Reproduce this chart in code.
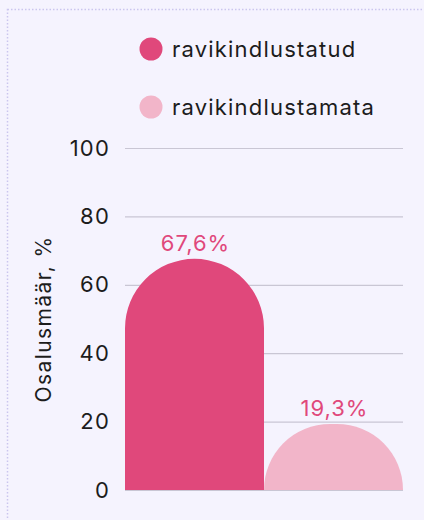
<!DOCTYPE html>
<html>
<head>
<meta charset="utf-8">
<script src="https://cdn.jsdelivr.net/npm/d3@7"></script>
<style>
  html, body { margin: 0; padding: 0; background: #f5f3fe; }
  svg { display: block; font-family: Inter, "Open Sans", sans-serif; }
</style>
</head>
<body>
<div id="chart"></div>
<script>
// ##################################
//  DATA
// ##################################
const categories = ["ravikindlustatud", "ravikindlustamata"]
const values = [67.6, 19.3]
const colors = ["#e0487b", "#f2b5c9"]
const yTicks = [0, 20, 40, 60, 80, 100]
const yTitle = "Osalusmäär, %"

// ##################################
//  CONSTANTS
// ##################################
const width = 424
const height = 520
const margin = { top: 148, right: 21, bottom: 30, left: 125 }
const plotW = width - margin.left - margin.right
const plotH = height - margin.top - margin.bottom
const fmt = (v) => d3.format(".1f")(v).replace(".", ",") + "%"

const svg = d3
  .select("#chart")
  .append("svg")
  .attr("width", width)
  .attr("height", height)

// dotted frame
svg
  .append("rect")
  .attr("x", 7.5)
  .attr("y", 9.5)
  .attr("width", width + 20)
  .attr("height", height + 20)
  .attr("fill", "none")
  .attr("stroke", "#cbc5ee")
  .attr("stroke-width", 1.5)
  .attr("stroke-dasharray", "1.5 2")

const x = d3
  .scaleBand()
  .domain(categories)
  .range([margin.left, margin.left + plotW])
  .padding(0)

const y = d3
  .scaleLinear()
  .domain([0, 100])
  .range([margin.top + plotH, margin.top])

// y axis + grid
svg
  .append("g")
  .attr("transform", `translate(${margin.left},0)`)
  .call(
    d3
      .axisLeft(y)
      .tickValues(yTicks)
      .tickSize(-plotW)
      .tickPadding(15)
  )
  .call((g) => g.select(".domain").remove())
  .call((g) => g.selectAll(".tick line").attr("stroke", "#c9c6d4").attr("stroke-width", 1.2))
  .call((g) =>
    g
      .selectAll(".tick text")
      .attr("fill", "#1c1c1c")
      .attr("font-size", 22)
      .attr("letter-spacing", 1.2)
      .attr("font-family", "Inter, sans-serif")
  )

// y title
svg
  .append("text")
  .attr("transform", `translate(51, ${margin.top + plotH / 2}) rotate(-90)`)
  .attr("text-anchor", "middle")
  .attr("font-size", 21)
  .attr("letter-spacing", 1.4)
  .attr("fill", "#1c1c1c")
  .text(yTitle)

// rounded-top bars
const barPath = (x0, w, yTop, yBase) => {
  const h = yBase - yTop
  const r = Math.min(w / 2, h)
  const p = d3.path()
  p.moveTo(x0, yBase)
  p.lineTo(x0, yTop + r)
  p.arcTo(x0, yTop, x0 + r, yTop, r)
  p.lineTo(x0 + w - r, yTop)
  p.arcTo(x0 + w, yTop, x0 + w, yTop + r, r)
  p.lineTo(x0 + w, yBase)
  p.closePath()
  return p.toString()
}

const bars = categories.map((c, i) => ({ c, v: values[i], color: colors[i] }))

svg
  .append("g")
  .selectAll("path")
  .data(bars)
  .join("path")
  .attr("fill", (d) => d.color)
  .attr("d", (d) => barPath(x(d.c), x.bandwidth(), y(d.v), y(0)))

// value labels
svg
  .append("g")
  .selectAll("text")
  .data(bars)
  .join("text")
  .attr("x", (d) => x(d.c) + x.bandwidth() / 2 + 1)
  .attr("y", (d) => y(d.v) - 8)
  .attr("text-anchor", "middle")
  .attr("font-size", 22)
  .attr("letter-spacing", 1)
  .attr("fill", "#e0487b")
  .text((d) => fmt(d.v))

// legend
const legend = svg
  .append("g")
  .selectAll("g")
  .data(bars)
  .join("g")
  .attr("transform", (d, i) => `translate(151, ${49 + i * 58})`)

legend.append("circle").attr("r", 11.5).attr("fill", (d) => d.color)
legend
  .append("text")
  .attr("x", 21)
  .attr("dy", "0.35em")
  .attr("font-size", 22)
  .attr("letter-spacing", 1.2)
  .attr("fill", "#1c1c1c")
  .text((d) => d.c)
</script>
</body>
</html>
